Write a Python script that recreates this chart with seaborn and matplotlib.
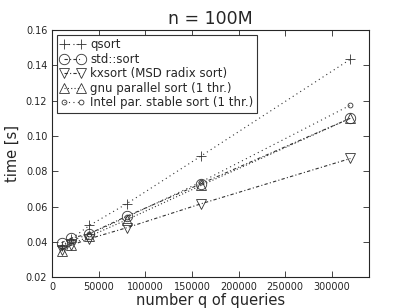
import matplotlib
matplotlib.use("Agg")
import matplotlib.pyplot as plt
import seaborn as sns
import pandas as pd

queries = [10000, 20000, 40000, 80000, 160000, 320000]
qsort = [0.0375, 0.0415, 0.0493, 0.0616, 0.0887, 0.1434]
std_sort = [0.0395, 0.0420, 0.0447, 0.0545, 0.0730, 0.1100]
kxsort = [0.0355, 0.0380, 0.0418, 0.0480, 0.0616, 0.0872]
gnu_par = [0.0350, 0.0385, 0.0432, 0.0525, 0.0720, 0.1100]
intel_par = [0.0372, 0.0405, 0.0445, 0.0540, 0.0740, 0.1174]

labels = ["qsort", "std::sort", "kxsort (MSD radix sort)",
          "gnu parallel sort (1 thr.)", "Intel par. stable sort (1 thr.)"]
series = [qsort, std_sort, kxsort, gnu_par, intel_par]
markers = ["+", "o", "v", "^", "o"]
msizes = [7.5, 7.5, 7.5, 7.5, 3.5]
linestyles = [(0, (1, 3)), (0, (3, 2, 1, 2)), (0, (3, 2, 1, 2)), (0, (1, 2)), (0, (1, 3))]

sns.set_style("ticks")
plt.rcParams['font.family'] = ['DejaVu Sans']

fig, ax = plt.subplots(figsize=(4.11, 3.08), dpi=100)
fig.subplots_adjust(left=0.127, right=0.898, top=0.903, bottom=0.10)

for lab, vals, m, ms, ls in zip(labels, series, markers, msizes, linestyles):
    df = pd.DataFrame({"q": queries, "t": vals})
    sns.lineplot(data=df, x="q", y="t", ax=ax, label=lab, marker=m,
                 markersize=ms, mfc="none", mec="#333333", mew=0.6,
                 color="#333333", lw=0.8, linestyle=ls)

ax.set_xlim(0, 340000)
ax.set_ylim(0.02, 0.16)
ax.set_xticks([0, 50000, 100000, 150000, 200000, 250000, 300000])
ax.set_yticks([0.02, 0.04, 0.06, 0.08, 0.10, 0.12, 0.14, 0.16])
ax.set_xticklabels(["0", "50000", "100000", "150000", "200000", "250000", "300000"])
ax.set_yticklabels([f"{v:.2f}" for v in ax.get_yticks()])
ax.tick_params(direction="in", top=True, right=True, labelsize=7, length=4, width=0.6)
for s in ax.spines.values():
    s.set_linewidth(0.8)
ax.set_xlabel("number q of queries", fontsize=10.5, labelpad=1)
ax.set_ylabel("time [s]", fontsize=10.5, labelpad=4)
ax.set_title("n = 100M", fontsize=12.5, pad=4)
leg = ax.legend(loc="upper left", numpoints=2, fontsize=8.5, fancybox=False,
                framealpha=1, edgecolor="#333333", borderpad=0.3,
                labelspacing=0.13, handlelength=2.0, handletextpad=0.5,
                borderaxespad=0.4)
leg.get_frame().set_linewidth(0.8)

fig.savefig("out.png", dpi=100)
